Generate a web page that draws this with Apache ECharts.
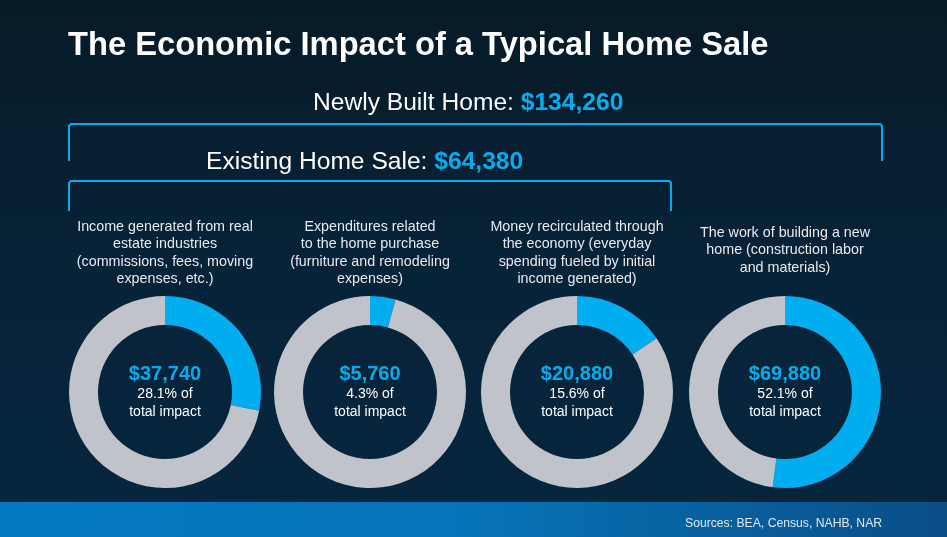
<!DOCTYPE html>
<html>
<head>
<meta charset="utf-8">
<title>The Economic Impact of a Typical Home Sale</title>
<script src="https://cdn.jsdelivr.net/npm/echarts@6/dist/echarts.min.js"></script>
<style>
  html, body { margin: 0; padding: 0; background: #071b29; }
  #chart { width: 947px; height: 537px; }
</style>
</head>
<body>
<div id="chart"></div>
<script>
// 数据
const totalImpact = 134260;
const newHomeTotal = 134260;
const existingTotal = 64380;
const categories = [
    'Income generated from real\nestate industries\n(commissions, fees, moving\nexpenses, etc.)',
    'Expenditures related\nto the home purchase\n(furniture and remodeling\nexpenses)',
    'Money recirculated through\nthe economy (everyday\nspending fueled by initial\nincome generated)',
    'The work of building a new\nhome (construction labor\nand materials)'
];
const amounts = [37740, 5760, 20880, 69880];
const shares = ['28.1%', '4.3%', '15.6%', '52.1%'];

const BLUE = '#00aeef';
const GREY = '#c0c3ca';
const FONT = '"Liberation Sans", Arial, sans-serif';

const centersX = [165, 370, 577, 785];
const centerY = 392;

function money(v) {
    return '$' + v.toLocaleString('en-US');
}

document.addEventListener('DOMContentLoaded', function () {
    const chart = echarts.init(document.getElementById('chart'));

    // 标题 + 说明文字
    const titles = [{
        text: 'The Economic Impact of a Typical Home Sale',
        left: 63, top: 24,
        textStyle: { color: '#ffffff', fontSize: 32.7, fontWeight: 'bold', fontFamily: FONT }
    }, {
        text: 'Sources: BEA, Census, NAHB, NAR',
        left: 680, top: 513,
        textStyle: { color: '#dfe8f0', fontSize: 12.2, fontWeight: 'normal', fontFamily: FONT }
    }];
    categories.forEach(function (c, i) {
        const lines = c.split('\n').length;
        titles.push({
            text: c,
            left: centersX[i] - 5, top: lines === 4 ? 213 : 219,
            textAlign: 'center',
            textStyle: {
                color: '#e8eaee', fontSize: 14.3, fontWeight: 'normal',
                fontFamily: FONT, lineHeight: 17.5, align: 'center'
            }
        });
    });

    // 饼图系列
    const series = amounts.map(function (v, i) {
        return {
            type: 'pie',
            center: [centersX[i], centerY],
            radius: [67, 96],
            startAngle: 90,
            clockwise: true,
            silent: true,
            animation: false,
            labelLine: { show: false },
            data: [{
                value: v,
                itemStyle: { color: BLUE },
                label: {
                    show: true,
                    position: 'center',
                    formatter: '{a|' + money(v) + '}\n{b|' + shares[i] + ' of}\n{b|total impact}',
                    rich: {
                        a: { color: BLUE, fontSize: 20, fontWeight: 'bold', fontFamily: FONT, lineHeight: 22 },
                        b: { color: '#ffffff', fontSize: 14, fontFamily: FONT, lineHeight: 18 }
                    }
                }
            }, {
                value: totalImpact - v,
                itemStyle: { color: GREY },
                label: { show: false }
            }]
        };
    });

    // 括号线
    function bracket(x1, x2, y, drop) {
        return {
            type: 'polyline',
            shape: {
                points: [[x1, y + drop], [x1, y + 2], [x1 + 2, y], [x2 - 2, y], [x2, y + 2], [x2, y + drop]]
            },
            style: { stroke: BLUE, lineWidth: 2, fill: null }
        };
    }

    const graphic = [{
        type: 'rect',
        z: -10,
        shape: { x: 0, y: 0, width: 947, height: 537 },
        style: {
            fill: new echarts.graphic.LinearGradient(0, 0, 0, 1, [
                { offset: 0, color: '#071a27' },
                { offset: 0.5, color: '#072338' },
                { offset: 1, color: '#06263f' }
            ])
        }
    }, {
        type: 'rect',
        z: -5,
        shape: { x: 0, y: 502, width: 947, height: 35 },
        style: {
            fill: new echarts.graphic.LinearGradient(0, 0, 1, 0, [
                { offset: 0, color: '#0479c3' },
                { offset: 0.5, color: '#0673b7' },
                { offset: 1, color: '#0a4e86' }
            ])
        }
    },
    bracket(69, 882, 124, 37),
    bracket(69, 671, 181, 30),
    {
        type: 'text',
        x: 313, y: 91,
        style: {
            text: '{w|Newly Built Home: }{v|' + money(newHomeTotal) + '}',
            rich: {
                w: { fill: '#ffffff', fontSize: 24.6, fontFamily: FONT },
                v: { fill: BLUE, fontSize: 24.6, fontWeight: 'bold', fontFamily: FONT }
            }
        }
    }, {
        type: 'text',
        x: 206, y: 150,
        style: {
            text: '{w|Existing Home Sale: }{v|' + money(existingTotal) + '}',
            rich: {
                w: { fill: '#ffffff', fontSize: 24.6, fontFamily: FONT },
                v: { fill: BLUE, fontSize: 24.6, fontWeight: 'bold', fontFamily: FONT }
            }
        }
    }];

    chart.setOption({
        backgroundColor: '#071b29',
        title: titles,
        graphic: graphic,
        series: series
    });

    window.addEventListener('resize', function () { chart.resize(); });
});
</script>
</body>
</html>
